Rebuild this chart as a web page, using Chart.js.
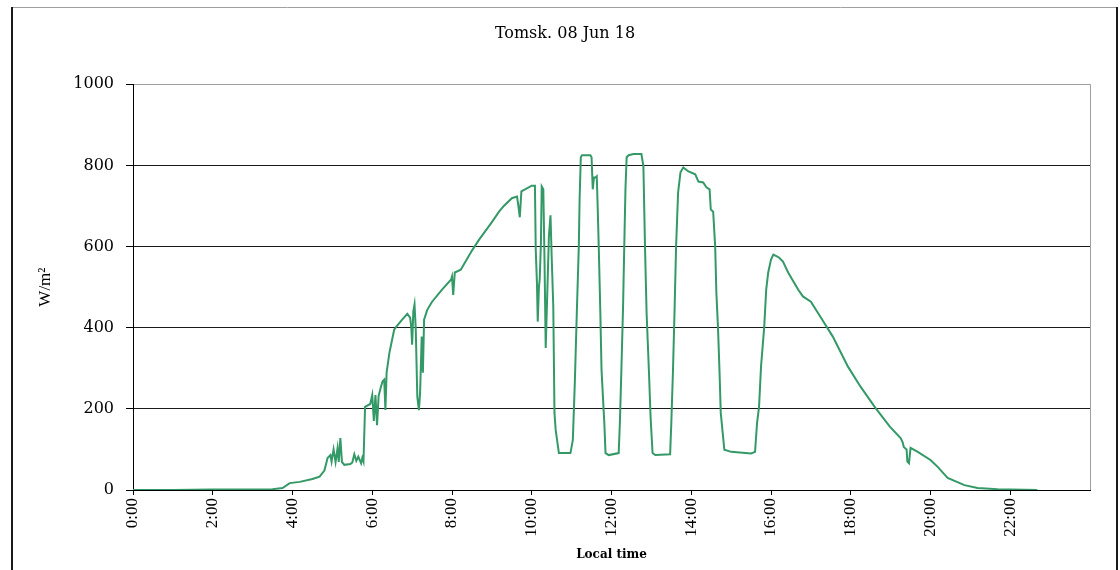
<!DOCTYPE html>
<html>
<head>
<meta charset="utf-8">
<title>Tomsk. 08 Jun 18</title>
<script src="https://cdn.jsdelivr.net/npm/chart.js@4.4.1/dist/chart.umd.min.js"></script>
<style>
  html, body { margin: 0; padding: 0; background: #fff; }
</style>
</head>
<body>
<canvas id="chart-radiacion" width="1120" height="570"></canvas>
<script>
// hora local (horas decimales) y radiación total (W/m²)
const horas = [
  0, 0.5, 1, 2, 3, 3.5, 3.75, 3.93, 4.18, 4.5, 4.68, 4.8, 4.88, 4.95, 4.98,
  5.03, 5.08, 5.13, 5.16, 5.2, 5.24, 5.3, 5.45, 5.5, 5.55, 5.6, 5.65, 5.72, 5.75, 5.78,
  5.82, 5.95, 6.0, 6.04, 6.08, 6.12, 6.16, 6.22, 6.26, 6.3, 6.33, 6.36, 6.43, 6.55, 6.6,
  6.75, 6.88, 6.95, 6.98, 7.0, 7.03, 7.06, 7.09, 7.13, 7.17, 7.2, 7.24, 7.27, 7.3, 7.38,
  7.5, 7.75, 7.98, 8.0, 8.03, 8.07, 8.22, 8.5, 8.68, 9.0, 9.18, 9.3, 9.5, 9.63, 9.66,
  9.7, 9.74, 10.0, 10.08, 10.1, 10.13, 10.15, 10.18, 10.2, 10.23, 10.25, 10.29, 10.32, 10.35, 10.38,
  10.43, 10.47, 10.5, 10.54, 10.57, 10.6, 10.68, 10.97, 11.03, 11.08, 11.13, 11.18, 11.2, 11.23, 11.26,
  11.47, 11.5, 11.53, 11.56, 11.6, 11.63, 11.65, 11.68, 11.72, 11.75, 11.82, 11.85, 11.93, 12.18, 12.21,
  12.25, 12.29, 12.32, 12.35, 12.38, 12.43, 12.55, 12.75, 12.8, 12.84, 12.88, 12.94, 12.98, 13.03, 13.1,
  13.47, 13.5, 13.54, 13.58, 13.62, 13.67, 13.73, 13.8, 13.93, 14.1, 14.18, 14.3, 14.38, 14.46, 14.49,
  14.55, 14.6, 14.63, 14.67, 14.71, 14.74, 14.83, 15.0, 15.5, 15.6, 15.65, 15.7, 15.75, 15.83, 15.88,
  15.93, 16.0, 16.06, 16.2, 16.3, 16.43, 16.68, 16.8, 17.0, 17.25, 17.55, 17.93, 18.25, 18.6, 18.98,
  19.25, 19.3, 19.33, 19.4, 19.42, 19.46, 19.5, 19.68, 20.0, 20.18, 20.43, 20.85, 21.18, 21.68, 22.68
];
const radiacion = [
  0, 0, 0, 1, 1, 2, 5, 17, 20, 27, 33, 48, 79, 86, 70,
  100, 69, 103, 69, 128, 69, 62, 64, 68, 88, 72, 82, 66, 79, 70,
  205, 212, 234, 170, 234, 160, 232, 255, 268, 272, 197, 289, 338, 395, 402,
  420, 434, 425, 400, 358, 440, 457, 400, 230, 197, 240, 378, 289, 420, 444,
  464, 494, 519, 526, 481, 536, 543, 590, 617, 660, 686, 700, 719, 723, 704,
  672, 736, 750, 750, 593, 511, 415, 500, 520, 610, 748, 741, 568, 350, 452,
  625, 677, 575, 452, 190, 148, 91, 91, 123, 264, 437, 600, 716, 820, 825,
  825, 820, 741, 770, 770, 773, 709, 600, 437, 296, 165, 91, 86, 91, 165,
  304, 452, 600, 741, 820, 825, 828, 828, 798, 600, 437, 289, 180, 91, 86,
  88, 165, 289, 437, 600, 733, 783, 795, 785, 778, 760, 758, 746, 741, 691,
  686, 600, 486, 402, 289, 190, 99, 94, 90, 94, 165, 205, 304, 402, 494,
  536, 568, 580, 573, 563, 536, 494, 477, 464, 425, 378, 304, 254, 205, 156,
  128, 118, 106, 100, 70, 66, 104, 94, 74, 57, 30, 12, 5, 2, 0
];

// marcas del eje horizontal
const marcasHora = [0, 2, 4, 6, 8, 10, 12, 14, 16, 18, 20, 22];
const etiquetasHora = ['0:00', '2:00', '4:00', '6:00', '8:00', '10:00', '12:00', '14:00', '16:00', '18:00', '20:00', '22:00'];

const VERDE = '#339966';
const SERIF = "'DejaVu Serif', serif";
const TIMES = "'Liberation Serif', serif";

// marco exterior y borde derecho del área de trazado
const marco = {
  id: 'marco',
  beforeDraw(chart) {
    const { ctx, chartArea: a } = chart;
    ctx.save();
    ctx.fillStyle = '#fff';
    ctx.fillRect(0, 0, chart.width, chart.height);
    ctx.strokeStyle = '#a0a0a0';
    ctx.lineWidth = 1;
    ctx.beginPath();
    ctx.moveTo(11, 7.5);
    ctx.lineTo(1117, 7.5);
    ctx.moveTo(a.right + 0.5, a.top);
    ctx.lineTo(a.right + 0.5, a.bottom);
    ctx.stroke();
    ctx.strokeStyle = '#1a1a1a';
    ctx.lineWidth = 2;
    ctx.beginPath();
    ctx.moveTo(12, 7);
    ctx.lineTo(12, chart.height);
    ctx.moveTo(1117, 7);
    ctx.lineTo(1117, chart.height);
    ctx.stroke();
    ctx.restore();
  }
};

new Chart(document.getElementById('chart-radiacion'), {
  type: 'line',
  data: {
    datasets: [{
      label: 'W/m²',
      data: horas.map((h, i) => ({ x: h, y: radiacion[i] })),
      borderColor: VERDE,
      borderWidth: 2,
      pointRadius: 0,
      tension: 0,
      fill: false
    }]
  },
  options: {
    responsive: false,
    animation: false,
    layout: { padding: { top: 0, left: 40, right: 30, bottom: 0 } },
    plugins: {
      legend: { display: false },
      tooltip: { enabled: false },
      title: {
        display: true,
        text: 'Tomsk. 08 Jun 18',
        color: '#000',
        font: { family: SERIF, size: 16, weight: 'normal' },
        padding: { top: 24, bottom: 41 }
      }
    },
    scales: {
      x: {
        type: 'linear',
        min: 0,
        max: 24,
        afterBuildTicks: s => { s.ticks = marcasHora.map(v => ({ value: v })); },
        afterFit: s => { s.height = 80; },
        ticks: {
          autoSkip: false,
          minRotation: 90,
          maxRotation: 90,
          padding: 3,
          color: '#000',
          font: { family: TIMES, size: 17 },
          callback: (v, i) => etiquetasHora[i]
        },
        grid: { drawOnChartArea: false, tickLength: 5, tickColor: '#000' },
        border: { color: '#000' },
        title: {
          display: true,
          text: 'Local time',
          color: '#000',
          font: { family: SERIF, size: 12, weight: 'bold' },
          padding: { top: 0, bottom: 8 }
        }
      },
      y: {
        min: 0,
        max: 1000,
        afterFit: s => { s.width = 93; },
        ticks: {
          stepSize: 200,
          padding: 12,
          color: '#000',
          font: { family: SERIF, size: 16 },
          callback: v => String(v)
        },
        grid: {
          color: c => c.tick.value === 1000 ? '#a0a0a0' : '#1a1a1a',
          tickColor: '#000',
          tickLength: 7
        },
        border: { color: '#000' },
        title: {
          display: true,
          text: 'W/m²',
          color: '#000',
          font: { family: TIMES, size: 17 },
          padding: { top: -5, bottom: 0 }
        }
      }
    }
  },
  plugins: [marco]
});
</script>
</body>
</html>
